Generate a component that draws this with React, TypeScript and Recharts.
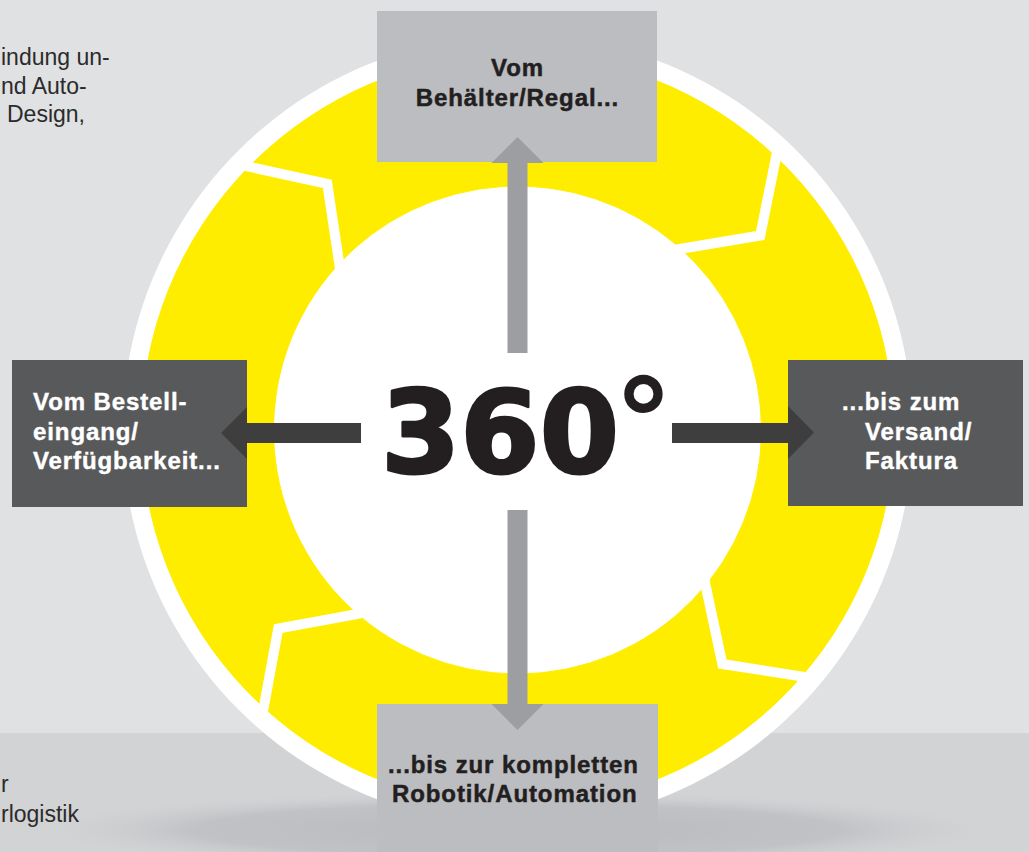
import React from 'react';
import { PieChart, Pie } from 'recharts';

const W = 1029;
const H = 852;
const CX = 517.5;
const CY = 430;

// yellow ring: arcs between the white chevron dividers (degrees), ccw from 49°
const segmentNames = ['Oben', 'Links', 'Unten', 'Rechts'];
const segmentArcs = [89, 92, 91.5, 87.5];
const ringStart = 49;

const topLabel = ['Vom', 'Behälter/Regal...'];
const leftLabel = ['Vom Bestell-', 'eingang/', 'Verfügbarkeit...'];
const rightLabel = ['...bis zum', 'Versand/', 'Faktura'];
const bottomLabel = ['...bis zur kompletten', 'Robotik/Automation'];
// fragments of the neighbouring column, cut at the left edge
const sideTextTop = ['indung un-', 'nd Auto-', 'Design,'];
const sideTextBottom = ['r', 'rlogistik'];

const ringData = segmentNames.map((name, i) => ({ name, value: segmentArcs[i] }));
const discData = [{ name: 'Kreis', value: 1 }];

const YELLOW = '#ffed00';
const RAD = Math.PI / 180;
const polar = (cx: number, cy: number, r: number, a: number) =>
  `${cx + r * Math.cos(-a * RAD)},${cy + r * Math.sin(-a * RAD)}`;

// white chevron at the end of every ring segment
const renderDivider = (p: any) => {
  const { cx, cy, innerRadius, outerRadius, endAngle, index } = p;
  const mid = (innerRadius + outerRadius) / 2 + 1;
  const pts = [
    polar(cx, cy, innerRadius - 8, endAngle + 0.5),
    polar(cx, cy, mid, endAngle - 10.3),
    polar(cx, cy, outerRadius + 8, endAngle - 1.7),
  ].join(' ');
  return (
    <polyline
      key={`div-${index}`}
      points={pts}
      fill="none"
      stroke="#fff"
      strokeWidth={10}
      strokeLinejoin="miter"
    />
  );
};

const boxFont = {
  fontFamily: '"Liberation Sans", Arial, sans-serif',
  fontWeight: 700,
  fontSize: 24,
  letterSpacing: 0.9,
};

export default function App() {
  return (
    <div style={{ position: 'absolute', left: 0, top: 0, width: W, height: H, overflow: 'hidden' }}>
      {/* background */}
      <svg width={W} height={H} style={{ position: 'absolute', left: 0, top: 0 }}>
        <defs>
          <radialGradient id="shadow" cx="50%" cy="50%" r="50%">
            <stop offset="0%" stopColor="#b9babd" />
            <stop offset="65%" stopColor="#c1c2c5" />
            <stop offset="100%" stopColor="#d2d3d5" stopOpacity={0} />
          </radialGradient>
        </defs>
        <rect x={0} y={0} width={W} height={H} fill="#e0e1e3" />
        <rect x={0} y={733} width={W} height={H - 733} fill="#d2d3d5" />
        <ellipse cx={517} cy={830} rx={495} ry={40} fill="url(#shadow)" />
        <g fontFamily='"Liberation Sans", Arial, sans-serif' fontSize={23} fill="#2b2b2b">
          {sideTextTop.map((t, i) => (
            <text key={t} x={[1, 1, 7][i]} y={65 + i * 28.5}>{t}</text>
          ))}
          {sideTextBottom.map((t, i) => (
            <text key={t} x={1} y={792 + i * 30}>{t}</text>
          ))}
        </g>
      </svg>

      {/* ring */}
      <div style={{ position: 'absolute', left: 0, top: 0 }}>
        <PieChart width={W} height={H} margin={{ top: 0, right: 0, bottom: 0, left: 0 }}>
          <Pie
            data={discData}
            dataKey="value"
            cx={CX}
            cy={CY}
            innerRadius={0}
            outerRadius={395}
            fill="#ffffff"
            stroke="none"
            isAnimationActive={false}
          />
          <Pie
            data={ringData}
            dataKey="value"
            cx={CX}
            cy={CY}
            startAngle={ringStart}
            endAngle={ringStart + 360}
            innerRadius={244}
            outerRadius={376}
            fill={YELLOW}
            stroke={YELLOW}
            strokeWidth={1}
            label={renderDivider}
            labelLine={false}
            isAnimationActive={false}
          />
        </PieChart>
      </div>

      {/* boxes, arrows, labels */}
      <svg width={W} height={H} style={{ position: 'absolute', left: 0, top: 0 }}>
        <rect x={377} y={11} width={280} height={151} fill="#bcbdc0" />
        <rect x={377} y={704} width={281} height={160} fill="#bcbdc0" />
        <rect x={12} y={360} width={235} height={147} fill="#58595b" />
        <rect x={788} y={360} width={235} height={146} fill="#58595b" />

        <polygon
          points="517.5,137 543.5,163 527.5,163 527.5,353 507.5,353 507.5,163 491.5,163"
          fill="#9d9ea2"
        />
        <polygon
          points="517.5,730 543.5,704 527.5,704 527.5,510 507.5,510 507.5,704 491.5,704"
          fill="#9d9ea2"
        />
        <polygon points="221,433 247,407 247,423 361,423 361,443 247,443 247,459" fill="#3e3e3f" />
        <polygon points="814,432.5 788,406 788,423 672,423 672,443 788,443 788,459" fill="#3e3e3f" />

        <g style={boxFont} fill="#231f20" stroke="#231f20" strokeWidth={0.5}>
          {topLabel.map((t, i) => (
            <text key={t} x={517.5} y={76 + i * 30} textAnchor="middle">{t}</text>
          ))}
          {bottomLabel.map((t, i) => (
            <text key={t} x={[388, 392][i]} y={773 + i * 29}>{t}</text>
          ))}
        </g>
        <g style={boxFont} fill="#ffffff" stroke="#ffffff" strokeWidth={0.4}>
          {leftLabel.map((t, i) => (
            <text key={t} x={33} y={410 + i * 29.5}>{t}</text>
          ))}
          {rightLabel.map((t, i) => (
            <text key={t} x={[842, 865, 865][i]} y={410 + i * 29.5}>{t}</text>
          ))}
        </g>

        <text
          x={500}
          y={472}
          textAnchor="middle"
          fontFamily='"DejaVu Sans", sans-serif'
          fontWeight={700}
          fontSize={114}
          fill="#231f20"
          stroke="#231f20"
          strokeWidth={3}
          strokeLinejoin="round"
        >
          360
        </text>
        <text
          x={614}
          y={463}
          fontFamily='"DejaVu Sans", sans-serif'
          fontWeight={700}
          fontSize={118}
          fill="#231f20"
        >
          °
        </text>
      </svg>
    </div>
  );
}
